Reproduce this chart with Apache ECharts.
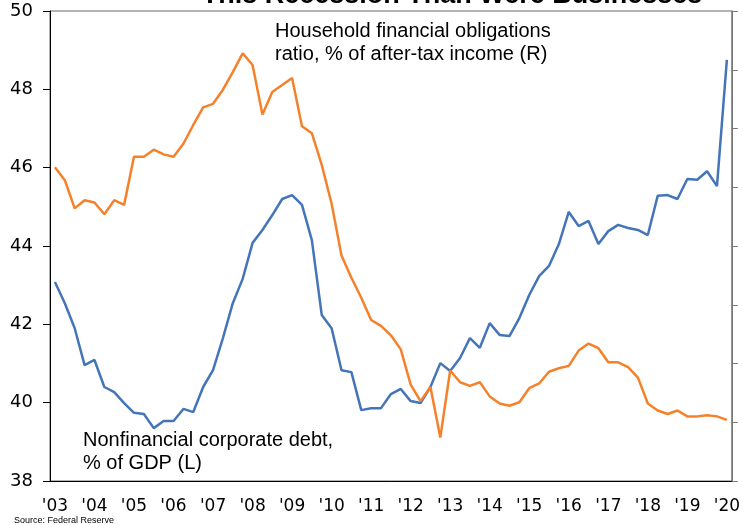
<!DOCTYPE html>
<html>
<head>
<meta charset="utf-8">
<script src="https://cdn.jsdelivr.net/npm/echarts@6/dist/echarts.min.js"></script>
<style>
  html, body { margin: 0; padding: 0; background: #fff; }
  #chart { width: 743px; height: 525px; }
</style>
</head>
<body>
<div id="chart"></div>
<script>
// years on the x axis, quarterly data 2003Q1 - 2020Q1
const years = ['03', '04', '05', '06', '07', '08', '09', '10', '11', '12', '13', '14', '15', '16', '17', '18', '19', '20'];

// Nonfinancial corporate debt, % of GDP (left axis)
const corporateDebt = [
  43.08, 42.54, 41.90, 40.96, 41.09, 40.40, 40.27, 39.99,
  39.74, 39.71, 39.35, 39.53, 39.53, 39.84, 39.76, 40.40,
  40.83, 41.65, 42.54, 43.16, 44.08, 44.41, 44.79, 45.20,
  45.30, 45.05, 44.15, 42.24, 41.90, 40.83, 40.78, 39.81,
  39.86, 39.86, 40.22, 40.35, 40.04, 39.99, 40.40, 41.01,
  40.81, 41.14, 41.65, 41.40, 42.03, 41.73, 41.70, 42.16,
  42.75, 43.23, 43.49, 44.05, 44.87, 44.51, 44.64, 44.05,
  44.38, 44.54, 44.46, 44.41, 44.28, 45.28, 45.30, 45.20,
  45.71, 45.69, 45.91, 45.53, 48.75
];

// Household financial obligations ratio, % of after-tax income (right axis)
const obligationsRatio = [
  16.67, 16.56, 16.32, 16.39, 16.37, 16.27, 16.39, 16.35,
  16.76, 16.76, 16.82, 16.78, 16.76, 16.87, 17.03, 17.18,
  17.21, 17.33, 17.48, 17.64, 17.54, 17.12, 17.31, 17.37,
  17.43, 17.02, 16.96, 16.69, 16.36, 15.92, 15.73, 15.56,
  15.37, 15.32, 15.24, 15.12, 14.82, 14.68, 14.80, 14.37,
  14.94, 14.84, 14.81, 14.84, 14.72, 14.66, 14.64, 14.67,
  14.79, 14.83, 14.93, 14.96, 14.98, 15.11, 15.17, 15.13,
  15.01, 15.01, 14.97, 14.88, 14.66, 14.60, 14.57, 14.60,
  14.55, 14.55, 14.56, 14.55, 14.52
];

const quarters = [];
years.forEach(function (y) {
  for (let q = 1; q <= 4; q++) {
    if (y === '20' && q > 1) break;
    quarters.push("'" + y + ' Q' + q);
  }
});

const blue = '#4575b9';
const orange = '#f5822a';
const textFont = 'Liberation Sans';

const chart = echarts.init(document.getElementById('chart'), null, { renderer: 'canvas' });

chart.setOption({
  backgroundColor: '#fff',
  animation: false,
  grid: {
    left: 50,
    right: 9,
    top: 11,
    bottom: 44,
    show: true,
    borderColor: '#666',
    borderWidth: 1
  },
  xAxis: {
    type: 'category',
    data: quarters,
    boundaryGap: true,
    axisLine: { lineStyle: { color: '#000', width: 1 } },
    axisTick: { interval: 0, length: 6, lineStyle: { color: '#000' } },
    axisLabel: {
      interval: 3,
      margin: 17,
      fontFamily: 'DejaVu Sans',
      fontSize: 17,
      color: '#000',
      formatter: function (v) { return v.slice(0, 3); }
    },
    splitLine: { show: false }
  },
  yAxis: [
    {
      type: 'value',
      min: 38,
      max: 50,
      interval: 2,
      axisLine: { show: true, lineStyle: { color: '#000', width: 1 } },
      axisTick: { show: true, length: 7, lineStyle: { color: '#000' } },
      axisLabel: { margin: 17, fontFamily: 'DejaVu Sans', fontSize: 18, color: '#000' },
      splitLine: { show: false }
    },
    {
      type: 'value',
      min: 14,
      max: 18,
      interval: 0.5,
      position: 'right',
      axisLine: { show: true, lineStyle: { color: '#777', width: 1 } },
      axisTick: { show: true, length: 6, lineStyle: { color: '#777' } },
      axisLabel: { show: false },
      splitLine: { show: false }
    }
  ],
  series: [
    {
      name: 'Nonfinancial corporate debt, % of GDP (L)',
      type: 'line',
      yAxisIndex: 0,
      data: corporateDebt,
      showSymbol: false,
      lineStyle: { color: blue, width: 2.5 },
      itemStyle: { color: blue }
    },
    {
      name: 'Household financial obligations ratio, % of after-tax income (R)',
      type: 'line',
      yAxisIndex: 1,
      data: obligationsRatio,
      showSymbol: false,
      lineStyle: { color: orange, width: 2.5 },
      itemStyle: { color: orange }
    }
  ],
  graphic: [
    {
      type: 'text',
      x: 452,
      y: -4,
      style: {
        text: 'This Recession Than Were Businesses',
        font: 'bold 27px "Liberation Sans"',
        fill: '#000',
        align: 'center',
        verticalAlign: 'middle'
      }
    },
    {
      type: 'text',
      x: 275,
      y: 20,
      style: {
        text: 'Household financial obligations\nratio, % of after-tax income (R)',
        fontFamily: textFont,
        fontSize: 20,
        lineHeight: 23,
        fill: '#000',
        align: 'left',
        verticalAlign: 'top'
      }
    },
    {
      type: 'text',
      x: 83,
      y: 429,
      style: {
        text: 'Nonfinancial corporate debt,\n% of GDP (L)',
        fontFamily: textFont,
        fontSize: 20,
        lineHeight: 23,
        fill: '#000',
        align: 'left',
        verticalAlign: 'top'
      }
    },
    {
      type: 'text',
      x: 14,
      y: 516,
      style: {
        text: 'Source: Federal Reserve',
        fontFamily: textFont,
        fontSize: 9,
        fill: '#000',
        align: 'left',
        verticalAlign: 'top'
      }
    }
  ]
});
</script>
</body>
</html>
